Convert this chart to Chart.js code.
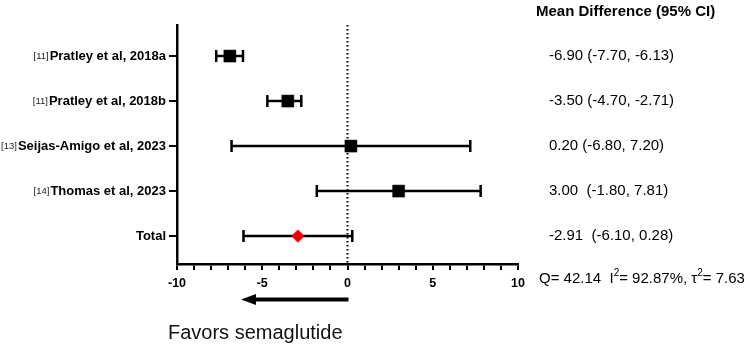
<!DOCTYPE html>
<html>
<head>
<meta charset="utf-8">
<script src="https://cdn.jsdelivr.net/npm/chart.js@4"></script>
<style>
  body { margin: 0; background: #fff; }
  #wrap { width: 750px; height: 345px; }
</style>
</head>
<body>
<div id="wrap"><canvas id="forest" width="750" height="345"></canvas></div>
<script>
const studies = ["Pratley et al, 2018a", "Pratley et al, 2018b", "Seijas-Amigo et al, 2023", "Thomas et al, 2023", "Total"];
const refs = ["[11]", "[11]", "[13]", "[14]", ""];
const means = [-6.90, -3.50, 0.20, 3.00, -2.91];
const lows = [-7.70, -4.70, -6.80, -1.80, -6.10];
const highs = [-6.13, -2.71, 7.20, 7.81, 0.28];
const ciText = ["-6.90 (-7.70, -6.13)", "-3.50 (-4.70, -2.71)", "0.20 (-6.80, 7.20)", "3.00  (-1.80, 7.81)", "-2.91  (-6.10, 0.28)"];
const xTicks = [-10, -5, 0, 5, 10];

const FONT = '"Liberation Sans", Arial, Helvetica, sans-serif';

// error bars + labels + the extra text around the plot
const forestPlugin = {
  id: "forest",
  beforeDatasetsDraw(chart) {
    const ctx = chart.ctx;
    const x = chart.scales.x, y = chart.scales.y;
    const area = chart.chartArea;

    // dotted line at zero
    ctx.save();
    ctx.strokeStyle = "#000";
    ctx.lineWidth = 2;
    ctx.setLineDash([1.5, 2.5]);
    ctx.beginPath();
    ctx.moveTo(x.getPixelForValue(0), area.top);
    ctx.lineTo(x.getPixelForValue(0), area.bottom);
    ctx.stroke();
    ctx.restore();

    ctx.save();
    ctx.strokeStyle = "#000";
    ctx.lineWidth = 2.5;
    for (let i = 0; i < means.length; i++) {
      const py = y.getPixelForValue(i + 1);
      const x1 = x.getPixelForValue(lows[i]);
      const x2 = x.getPixelForValue(highs[i]);
      ctx.beginPath();
      ctx.moveTo(x1, py); ctx.lineTo(x2, py);
      ctx.moveTo(x1, py - 6); ctx.lineTo(x1, py + 6);
      ctx.moveTo(x2, py - 6); ctx.lineTo(x2, py + 6);
      ctx.stroke();
    }
    ctx.restore();
  },
  afterDraw(chart) {
    const ctx = chart.ctx;
    const x = chart.scales.x, y = chart.scales.y;
    ctx.save();
    ctx.fillStyle = "#000";
    ctx.textBaseline = "middle";

    // study names on the left
    for (let i = 0; i < studies.length; i++) {
      const py = y.getPixelForValue(i + 1);
      ctx.font = "bold 13px " + FONT;
      ctx.textAlign = "right";
      ctx.fillText(studies[i], 166, py + 0.5);
      const w = ctx.measureText(studies[i]).width;
      if (refs[i]) {
        ctx.font = "9.5px " + FONT;
        ctx.fillStyle = "#222";
        ctx.fillText(refs[i], 166 - w - 1, py);
        ctx.fillStyle = "#000";
      }
    }

    // right column
    ctx.textAlign = "left";
    ctx.font = "bold 15px " + FONT;
    ctx.fillText("Mean Difference (95% CI)", 536, 12);
    ctx.font = "15px " + FONT;
    for (let i = 0; i < ciText.length; i++) {
      ctx.fillText(ciText[i], 549, y.getPixelForValue(i + 1));
    }

    // heterogeneity line with superscripts
    let cx = 539;
    const qy = 279;
    const parts = [["Q= 42.14  I", false], ["2", true], ["= 92.87%, τ", false], ["2", true], ["= 7.63", false]];
    for (const [t, sup] of parts) {
      ctx.font = (sup ? "10px " : "15px ") + FONT;
      ctx.fillText(t, cx, sup ? qy - 6 : qy);
      cx += ctx.measureText(t).width;
    }

    // arrow
    const ax0 = x.getPixelForValue(0) + 1, ax1 = 241, ay = 299.5;
    ctx.strokeStyle = "#000";
    ctx.lineWidth = 4;
    ctx.beginPath();
    ctx.moveTo(ax0, ay); ctx.lineTo(ax1 + 10, ay);
    ctx.stroke();
    ctx.beginPath();
    ctx.moveTo(ax1, ay);
    ctx.lineTo(ax1 + 15, ay - 5.5);
    ctx.lineTo(ax1 + 15, ay + 5.5);
    ctx.closePath();
    ctx.fill();

    ctx.font = "20px " + FONT;
    ctx.fillStyle = "#111";
    ctx.fillText("Favors semaglutide", 168, 333);
    ctx.restore();
  }
};

const pointColors = means.map((m, i) => (i === means.length - 1 ? "#f00000" : "#000"));

new Chart(document.getElementById("forest"), {
  type: "scatter",
  data: {
    datasets: [{
      data: means.map((m, i) => ({ x: m, y: i + 1 })),
      pointStyle: means.map((m, i) => (i === means.length - 1 ? "rectRot" : "rect")),
      pointRadius: means.map((m, i) => (i === means.length - 1 ? 6.3 : 8.5)),
      backgroundColor: pointColors,
      borderColor: pointColors,
      borderWidth: 0.5,
    }],
  },
  options: {
    responsive: false,
    animation: false,
    devicePixelRatio: 1,
    layout: { padding: { top: 25, right: 232, left: 0, bottom: 0 } },
    plugins: { legend: { display: false }, tooltip: { enabled: false } },
    scales: {
      x: {
        type: "linear",
        min: -10,
        max: 10,
        afterFit: (s) => { s.height = 81; },
        border: { display: true, color: "#000", width: 2.5 },
        grid: { drawOnChartArea: false, color: "#000", lineWidth: 2, tickLength: 6 },
        ticks: {
          stepSize: 1,
          padding: 6,
          color: "#000",
          maxRotation: 0,
          autoSkip: false,
          font: { family: FONT, size: 12.5, weight: "bold" },
          callback: (v) => (xTicks.includes(v) ? String(v) : ""),
        },
      },
      y: {
        type: "linear",
        reverse: true,
        min: 0.31,
        max: 5.62,
        afterFit: (s) => { s.width = 177; },
        afterBuildTicks: (s) => { s.ticks = studies.map((n, i) => ({ value: i + 1 })); },
        border: { display: true, color: "#000", width: 2.5 },
        grid: { drawOnChartArea: false, color: "#000", lineWidth: 2, tickLength: 8 },
        ticks: { display: true, callback: () => "" },
      },
    },
  },
  plugins: [forestPlugin],
});
</script>
</body>
</html>
